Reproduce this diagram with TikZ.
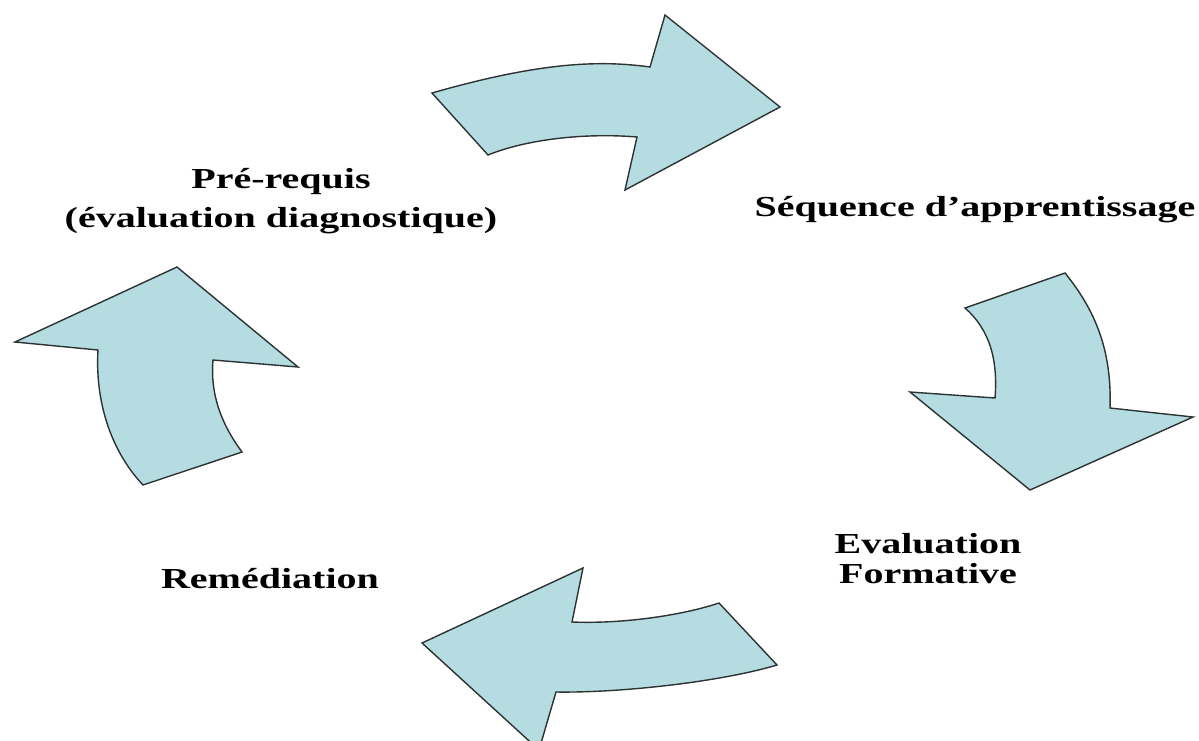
\documentclass[tikz,border=0pt]{standalone}
\usepackage{fontspec}
\usepackage{graphicx}
\setmainfont{Liberation Serif}
\definecolor{arrowfill}{RGB}{180,220,225}
\definecolor{arrowline}{RGB}{45,50,50}
\tikzset{
  cyclearrow/.style={fill=arrowfill, draw=arrowline, line width=1.4pt, line join=miter},
  lbl/.style={anchor=base, inner sep=0pt, font=\bfseries\fontsize{29}{29}\selectfont, text=black}
}
\newcommand{\wide}[1]{\scalebox{1.38}[1]{#1}}
\begin{document}
\begin{tikzpicture}[x=1pt,y=-1pt]
\useasboundingbox (0,0) rectangle (1199,740);
\fill[white] (0,0) rectangle (1199,740);
\clip (0,0) rectangle (1199,740);

% top arrow
\draw[cyclearrow] (432,93) .. controls (540,62) and (600,60) .. (650,67)
  -- (665,15) -- (780,107) -- (625,190) -- (637,137)
  .. controls (590,133) and (530,138) .. (488,155) -- cycle;

% right arrow
\draw[cyclearrow] (965,308) -- (1065,273)
  .. controls (1095,310) and (1112,350) .. (1110,408)
  -- (1193,417) -- (1030,490) -- (910,392) -- (995,398)
  .. controls (998,360) and (990,330) .. (965,308) -- cycle;

% bottom arrow
\draw[cyclearrow] (422,643) -- (583,568) -- (572,622)
  .. controls (620,624) and (680,616) .. (719,603)
  -- (777,665)
  .. controls (720,682) and (620,693) .. (556,692)
  -- (539,750) -- cycle;

% left arrow
\draw[cyclearrow] (177,267) -- (298,367) -- (213,360)
  .. controls (210,395) and (222,425) .. (242,452)
  -- (143,485)
  .. controls (110,450) and (95,400) .. (98,350)
  -- (15,342) -- cycle;

\node[lbl] (pre1) at (281,188) {\wide{Pré-requis}};
\node[lbl] (pre2) at (281,227) {\wide{(évaluation diagnostique)}};
\node[lbl] (seq) at (975,216) {\wide{Séquence d’apprentissage}};
\node[lbl] (eval1) at (928,553) {\wide{Evaluation}};
\node[lbl] (eval2) at (928,583) {\wide{Formative}};
\node[lbl] (rem) at (270,588) {\wide{Remédiation}};
\end{tikzpicture}
\end{document}
